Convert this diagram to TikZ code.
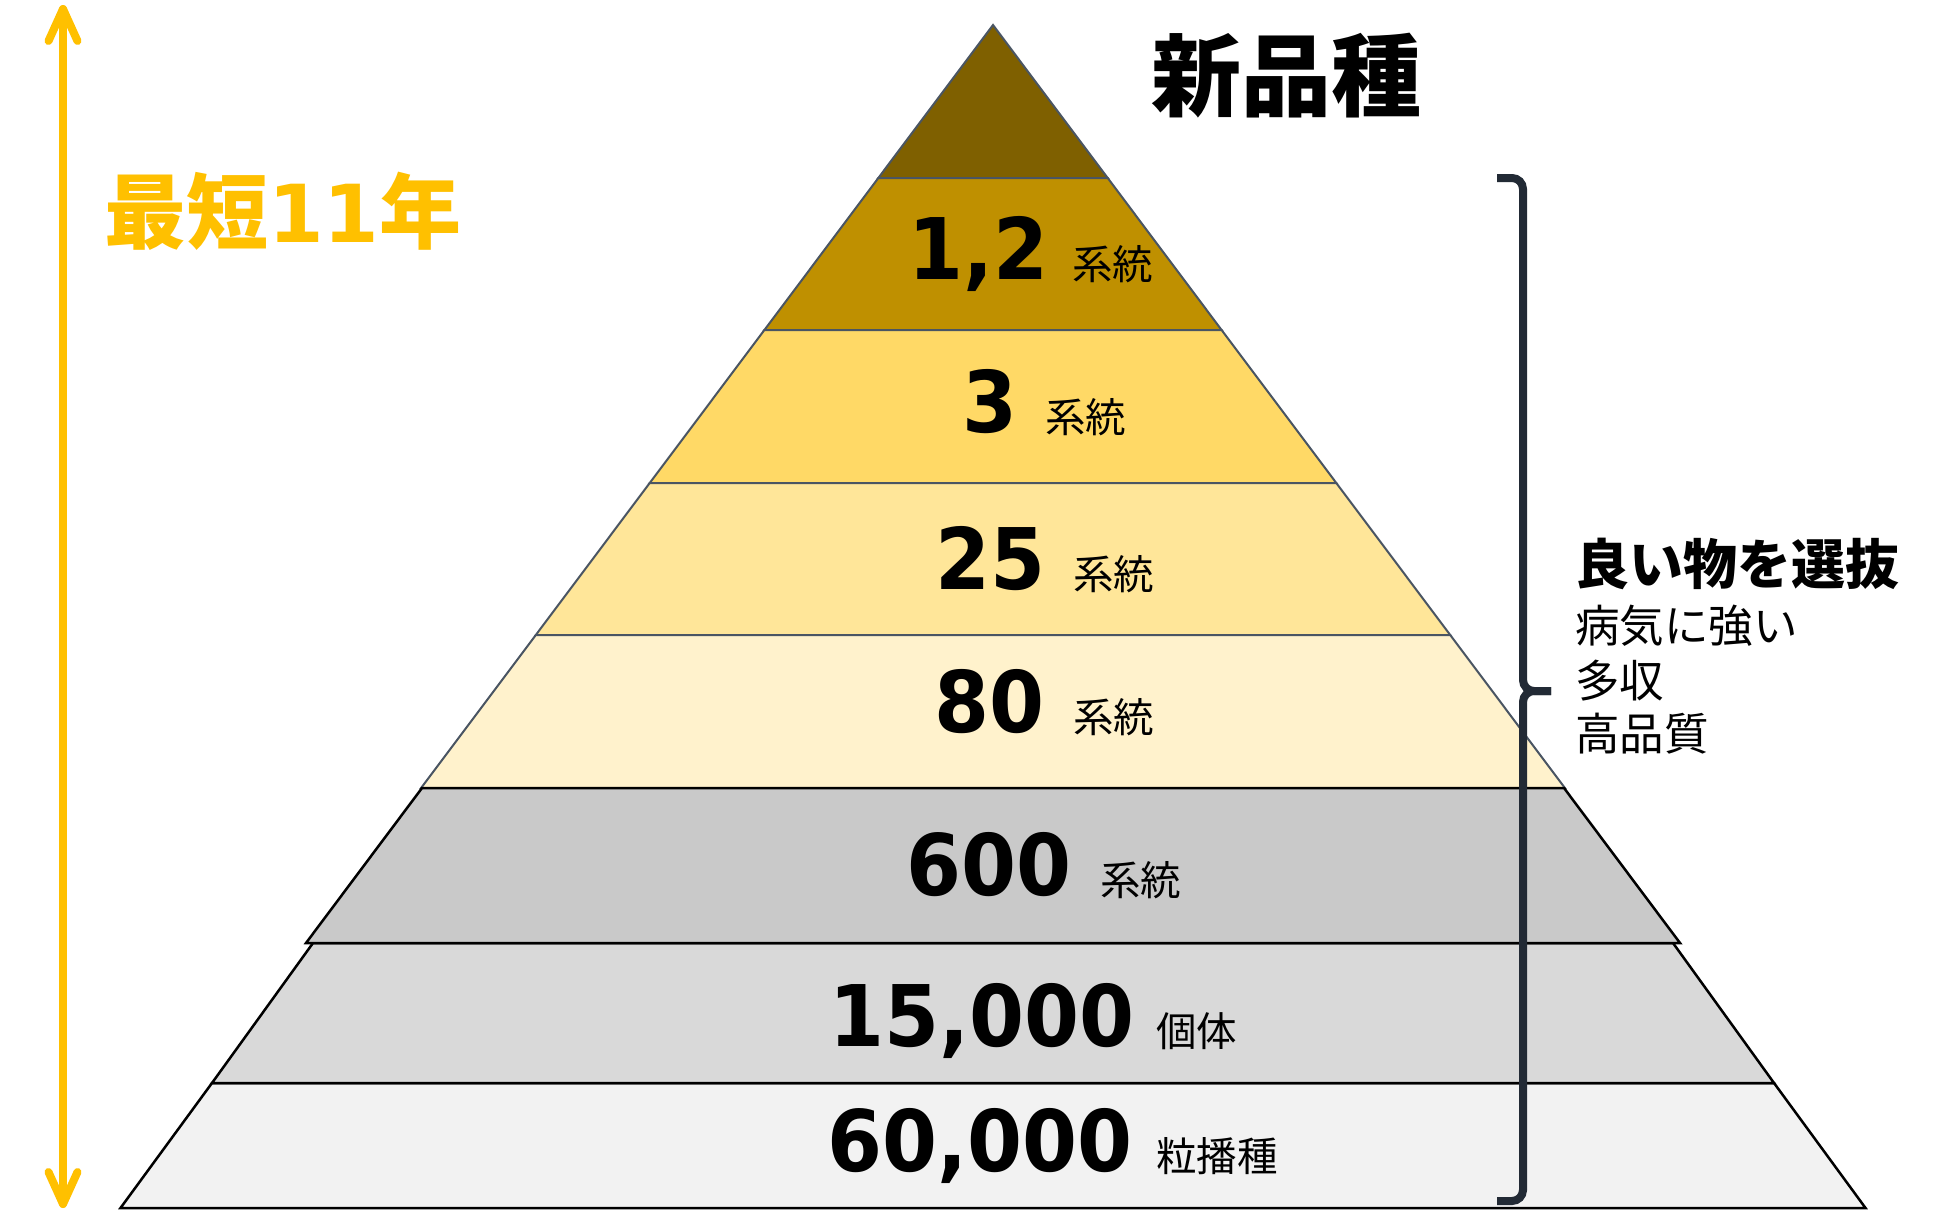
\documentclass[tikz,border=0pt]{standalone}
\usepackage{fontspec}
\usetikzlibrary{calc}
\newfontfamily\jp{Noto Sans CJK JP}
\newfontfamily\num[FakeStretch=0.93]{DejaVu Sans Bold}
\newfontfamily\numw{DejaVu Sans Bold}
\definecolor{cTop}{HTML}{7F6000}
\definecolor{cOne}{HTML}{BF9000}
\definecolor{cTwo}{HTML}{FFD966}
\definecolor{cThree}{HTML}{FFE699}
\definecolor{cFour}{HTML}{FFF2CC}
\definecolor{gOne}{HTML}{C9C9C9}
\definecolor{gTwo}{HTML}{D9D9D9}
\definecolor{gThree}{HTML}{F2F2F2}
\definecolor{edgeSlate}{HTML}{4A5563}
\definecolor{braceCol}{HTML}{222A35}
\definecolor{arrowCol}{HTML}{FFC000}
\begin{document}
\begin{tikzpicture}[x=1pt,y=-1pt,
  colorlayer/.style={draw=edgeSlate,line width=2pt,line join=miter},
  graylayer/.style={draw=black,line width=2.5pt,line join=miter},
  numlabel/.style={anchor=base,inner sep=0pt,font=\num\fontsize{85}{100}\selectfont},
  unitlabel/.style={anchor=base west,inner sep=0pt,font=\jp\fontsize{40.5}{48}\selectfont},
  sidelabel/.style={anchor=base west,inner sep=0pt,font=\jp\fontsize{44.5}{52}\selectfont},
  yellowarrow/.style={draw=arrowCol,line width=8pt,line cap=round,line join=round},
  bracestyle/.style={draw=braceCol,line width=8pt,rounded corners=11pt}
]
\useasboundingbox (0,0) rectangle (1935,1213);
\fill[white] (0,0) rectangle (1935,1213);

% colored layers
\filldraw[colorlayer,fill=cTop] (993,25) -- (1107.7,178) -- (878.3,178) -- cycle;
\filldraw[colorlayer,fill=cOne] (878.3,178) -- (1107.7,178) -- (1221.6,330) -- (764.4,330) -- cycle;
\filldraw[colorlayer,fill=cTwo] (764.4,330) -- (1221.6,330) -- (1336.3,483) -- (649.7,483) -- cycle;
\filldraw[colorlayer,fill=cThree] (649.7,483) -- (1336.3,483) -- (1450.2,635) -- (535.8,635) -- cycle;
\filldraw[colorlayer,fill=cFour] (535.8,635) -- (1450.2,635) -- (1564.9,788) -- (421.1,788) -- cycle;
% gray layers
\filldraw[graylayer,fill=gThree] (212,1083) -- (1774,1083) -- (1865.5,1208) -- (120.5,1208) -- cycle;
\filldraw[graylayer,fill=gTwo] (313,943) -- (1673,943) -- (1774,1083) -- (212,1083) -- cycle;
\filldraw[graylayer,fill=gOne] (422,788) -- (1564,788) -- (1680,943) -- (306,943) -- cycle;

% layer labels
\node[numlabel] (n1) at (978.5,279) {1,2};
\node[unitlabel] (u1) at (1072,279) {系統};
\node[numlabel] (n2) at (990,432) {3};
\node[unitlabel] (u2) at (1045,432) {系統};
\node[numlabel] (n3) at (990,589) {25};
\node[unitlabel] (u3) at (1073,589) {系統};
\node[numlabel] (n4) at (989.5,732) {80};
\node[unitlabel] (u4) at (1073,732) {系統};
\node[numlabel] (n5) at (989,895) {600};
\node[unitlabel] (u5) at (1100,895) {系統};
\node[numlabel] (n6) at (982,1046) {15,000};
\node[unitlabel] (u6) at (1156,1046) {個体};
\node[numlabel] (n7) at (980,1171) {60,000};
\node[unitlabel] (u7) at (1156,1171) {粒播種};

% title
\node[anchor=base west,inner sep=0pt,font=\jp\bfseries\fontsize{90}{100}\selectfont] (title) at (1151,109) {新品種};

% left arrow and label
\coordinate (atop) at (63,9);
\coordinate (abot) at (63,1204);
\draw[yellowarrow] (atop) -- (abot);
\draw[yellowarrow] ($(atop)+(-14.5,32)$) -- (atop) -- ($(atop)+(14.5,32)$);
\draw[yellowarrow] ($(abot)+(-14.5,-32)$) -- (abot) -- ($(abot)+(14.5,-32)$);
\node[anchor=base west,inner sep=0pt,text=arrowCol] (years) at (104,242)
  {{\jp\bfseries\fontsize{82}{96}\selectfont 最短}{\numw\fontsize{80}{96}\selectfont 11}{\jp\bfseries\fontsize{82}{96}\selectfont 年}};

% brace
\coordinate (btop) at (1497,178);
\coordinate (bmid) at (1551,691);
\coordinate (bbot) at (1497,1201);
\draw[bracestyle] (btop) -- (1523,178) -- (1523,691) -- (bmid);
\draw[bracestyle] (bmid) -- (1523,691) -- (1523,1201) -- (bbot);

% side text
\node[anchor=base west,inner sep=0pt,font=\jp\bfseries\fontsize{54}{60}\selectfont] (sel) at (1575,584) {良い物を選抜};
\node[sidelabel] (s1) at (1575,642) {病気に強い};
\node[sidelabel] (s2) at (1575,697) {多収};
\node[sidelabel] (s3) at (1575,750) {高品質};
\end{tikzpicture}
\end{document}
